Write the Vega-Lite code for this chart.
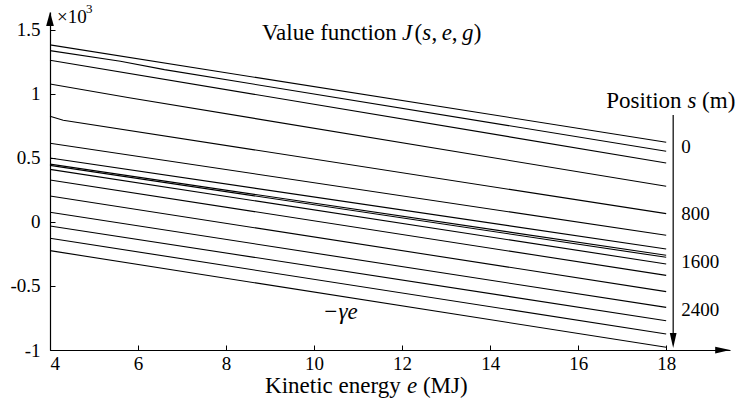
{
  "$schema": "https://vega.github.io/schema/vega-lite/v6.json",
  "width": 680,
  "height": 338,
  "autosize": {"type": "none"},
  "padding": {"left": 50, "top": 12, "right": 9, "bottom": 55},
  "background": "white",
  "config": {"view": {"stroke": null}, "font": "Liberation Serif"},
  "datasets": {
    "lines": [
      {"s": 1, "e": 4, "J": 1.383}, {"s": 1, "e": 18, "J": 0.623},
      {"s": 2, "e": 4, "J": 1.338}, {"s": 2, "e": 5.6, "J": 1.255}, {"s": 2, "e": 6.6, "J": 1.19}, {"s": 2, "e": 18, "J": 0.552},
      {"s": 3, "e": 4, "J": 1.263}, {"s": 3, "e": 18, "J": 0.461},
      {"s": 4, "e": 4, "J": 1.078}, {"s": 4, "e": 5.8, "J": 0.97}, {"s": 4, "e": 18, "J": 0.279},
      {"s": 5, "e": 4, "J": 0.826}, {"s": 5, "e": 4.3, "J": 0.795}, {"s": 5, "e": 18, "J": 0.065},
      {"s": 6, "e": 4, "J": 0.615}, {"s": 6, "e": 18, "J": -0.104},
      {"s": 7, "e": 4, "J": 0.5}, {"s": 7, "e": 18, "J": -0.211},
      {"s": 8, "e": 4, "J": 0.452}, {"s": 8, "e": 18, "J": -0.26},
      {"s": 9, "e": 4, "J": 0.442}, {"s": 9, "e": 18, "J": -0.276},
      {"s": 10, "e": 4, "J": 0.411}, {"s": 10, "e": 18, "J": -0.328},
      {"s": 11, "e": 4, "J": 0.328}, {"s": 11, "e": 18, "J": -0.417},
      {"s": 12, "e": 4, "J": 0.203}, {"s": 12, "e": 18, "J": -0.544},
      {"s": 13, "e": 4, "J": 0.076}, {"s": 13, "e": 18, "J": -0.667},
      {"s": 14, "e": 4, "J": -0.031}, {"s": 14, "e": 18, "J": -0.771},
      {"s": 15, "e": 4, "J": -0.127}, {"s": 15, "e": 18, "J": -0.875},
      {"s": 16, "e": 4, "J": -0.224}, {"s": 16, "e": 18, "J": -0.979}
    ],
    "upArrow": [{"e": 4, "J": 1.586}],
    "rightArrow": [{"e": 19.284, "J": -1}],
    "downArrow": [{"e": 18.159, "J": -0.926}],
    "shaft": [{"e": 18.159, "top": 0.836, "bottom": -0.93}],
    "textBig": [
      {"e": 8.818, "J": 1.477, "t": "Value function"},
      {"e": 12.28, "J": 1.477, "t": "("},
      {"e": 12.67, "J": 1.477, "t": ","},
      {"e": 13.13, "J": 1.477, "t": ","},
      {"e": 13.63, "J": 1.477, "t": ")"},
      {"e": 8.886, "J": -1.281, "t": "Kinetic energy"},
      {"e": 12.473, "J": -1.281, "t": "(MJ)"},
      {"e": 16.636, "J": 0.945, "t": "Position"},
      {"e": 18.816, "J": 0.945, "t": "(m)"}
    ],
    "textItalic": [
      {"e": 12.0, "J": 1.477, "t": "J"},
      {"e": 12.46, "J": 1.477, "t": "s"},
      {"e": 12.9, "J": 1.477, "t": "e"},
      {"e": 13.36, "J": 1.477, "t": "g"},
      {"e": 12.109, "J": -1.281, "t": "e"},
      {"e": 18.482, "J": 0.945, "t": "s"},
      {"e": 10.2, "J": -0.703, "t": "−γe"}
    ],
    "textMid": [
      {"e": 4.16, "J": 1.6, "t": "×10"},
      {"e": 18.34, "J": 0.586, "t": "0"},
      {"e": 18.34, "J": 0.0625, "t": "800"},
      {"e": 18.34, "J": -0.3125, "t": "1600"},
      {"e": 18.34, "J": -0.6875, "t": "2400"}
    ],
    "textSmall": [
      {"e": 4.82, "J": 1.66, "t": "3"}
    ]
  },
  "layer": [
    {
      "data": {"name": "lines"},
      "mark": {"type": "line", "color": "black", "strokeWidth": 1.1},
      "encoding": {
        "x": {
          "field": "e", "type": "quantitative",
          "scale": {"domain": [4, 19.45], "nice": false, "zero": false},
          "axis": {
            "values": [4, 6, 8, 10, 12, 14, 16, 18],
            "title": null, "grid": false,
            "domainColor": "black", "domainWidth": 1.2,
            "tickColor": "black", "tickSize": -5, "tickWidth": 1,
            "labelPadding": 9, "labelFont": "Liberation Serif", "labelFontSize": 19,
            "labelColor": "black", "format": "d"
          }
        },
        "y": {
          "field": "J", "type": "quantitative",
          "scale": {"domain": [-1, 1.64], "nice": false, "zero": false},
          "axis": {
            "values": [-1, -0.5, 0, 0.5, 1, 1.5],
            "title": null, "grid": false,
            "domainColor": "black", "domainWidth": 1.2,
            "tickColor": "black", "tickSize": -5, "tickWidth": 1,
            "labelPadding": 15, "labelFont": "Liberation Serif", "labelFontSize": 19,
            "labelColor": "black",
            "labelExpr": "datum.value < 0 ? '-' + format(-datum.value, '~g') : format(datum.value, '~g')"
          }
        },
        "detail": {"field": "s"}
      }
    },
    {
      "data": {"name": "upArrow"},
      "mark": {"type": "point", "shape": "M0,-1L0.55,1L-0.55,1Z", "size": 196, "filled": true, "color": "black", "opacity": 1},
      "encoding": {"x": {"field": "e", "type": "quantitative"}, "y": {"field": "J", "type": "quantitative"}}
    },
    {
      "data": {"name": "rightArrow"},
      "mark": {"type": "point", "shape": "M1,0L-1,0.45L-1,-0.45Z", "size": 225, "filled": true, "color": "black", "opacity": 1},
      "encoding": {"x": {"field": "e", "type": "quantitative"}, "y": {"field": "J", "type": "quantitative"}}
    },
    {
      "data": {"name": "downArrow"},
      "mark": {"type": "point", "shape": "M0,1L0.45,-1L-0.45,-1Z", "size": 225, "filled": true, "color": "black", "opacity": 1},
      "encoding": {"x": {"field": "e", "type": "quantitative"}, "y": {"field": "J", "type": "quantitative"}}
    },
    {
      "data": {"name": "shaft"},
      "mark": {"type": "rule", "color": "black", "strokeWidth": 1.2},
      "encoding": {
        "x": {"field": "e", "type": "quantitative"},
        "y": {"field": "top", "type": "quantitative"},
        "y2": {"field": "bottom"}
      }
    },
    {
      "data": {"name": "textBig"},
      "mark": {"type": "text", "align": "left", "baseline": "middle", "font": "Liberation Serif", "fontSize": 23, "color": "black"},
      "encoding": {"x": {"field": "e", "type": "quantitative"}, "y": {"field": "J", "type": "quantitative"}, "text": {"field": "t"}}
    },
    {
      "data": {"name": "textItalic"},
      "mark": {"type": "text", "align": "left", "baseline": "middle", "font": "Liberation Serif", "fontStyle": "italic", "fontSize": 23, "color": "black"},
      "encoding": {"x": {"field": "e", "type": "quantitative"}, "y": {"field": "J", "type": "quantitative"}, "text": {"field": "t"}}
    },
    {
      "data": {"name": "textMid"},
      "mark": {"type": "text", "align": "left", "baseline": "middle", "font": "Liberation Serif", "fontSize": 19, "color": "black"},
      "encoding": {"x": {"field": "e", "type": "quantitative"}, "y": {"field": "J", "type": "quantitative"}, "text": {"field": "t"}}
    },
    {
      "data": {"name": "textSmall"},
      "mark": {"type": "text", "align": "left", "baseline": "middle", "font": "Liberation Serif", "fontSize": 13, "color": "black"},
      "encoding": {"x": {"field": "e", "type": "quantitative"}, "y": {"field": "J", "type": "quantitative"}, "text": {"field": "t"}}
    }
  ]
}
